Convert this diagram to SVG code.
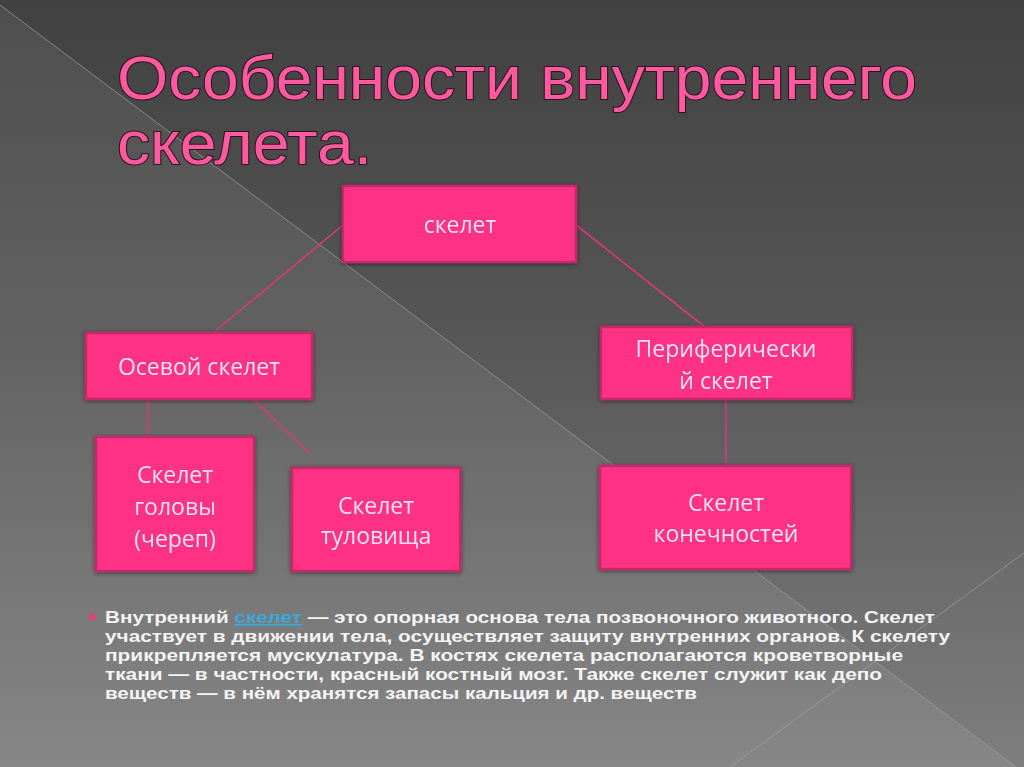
<svg xmlns="http://www.w3.org/2000/svg" width="1024" height="767" viewBox="0 0 1024 767">
<defs>
<linearGradient id="bg" x1="0" y1="0" x2="0" y2="1">
<stop offset="0" stop-color="#414141"/>
<stop offset="0.45" stop-color="#575757"/>
<stop offset="1" stop-color="#7e7e7e"/>
</linearGradient>
<filter id="glow" x="-10%" y="-10%" width="120%" height="120%">
<feGaussianBlur in="SourceAlpha" stdDeviation="2"/>
<feOffset dx="0" dy="1"/>
<feComponentTransfer><feFuncA type="linear" slope="0.5"/></feComponentTransfer>
<feMerge><feMergeNode/><feMergeNode in="SourceGraphic"/></feMerge>
</filter>
<style>
.box{fill:#ff3385;stroke:#c42a68;stroke-width:2.5}
.lbl{font-family:"Century Gothic","URW Gothic","Open Sans","Liberation Sans",sans-serif;font-size:23px;fill:#fbe1ef;text-anchor:middle}
.title{font-family:"Century Gothic","URW Gothic","Liberation Sans",sans-serif;font-size:62px;fill:#ff5aa0;stroke:#2e1420;stroke-width:2;paint-order:stroke}
.para{font-family:"Liberation Sans",Arial,sans-serif;font-weight:bold;font-size:16px;fill:#f4f4f4}
.conn{stroke:#d83a78;stroke-width:1.6;fill:none}
</style>
</defs>
<rect width="1024" height="767" fill="url(#bg)"/>
<polygon points="0,5 1024,773 0,767" fill="#ffffff" fill-opacity="0.07"/>
<line x1="0" y1="5" x2="1024" y2="773" stroke="#a0a0a0" stroke-opacity="0.7" stroke-width="1"/>
<line x1="1024" y1="553" x2="730" y2="767" stroke="#a8a8a8" stroke-opacity="0.6" stroke-width="1"/>

<g id="title">
<text class="title" x="117" y="99" textLength="800" lengthAdjust="spacingAndGlyphs">Особенности внутреннего</text>
<text class="title" x="117" y="164" textLength="255" lengthAdjust="spacingAndGlyphs">скелета.</text>
</g>

<g id="connectors">
<line class="conn" x1="343" y1="225" x2="213" y2="333"/>
<line class="conn" x1="576" y1="225" x2="705" y2="327"/>
<line class="conn" x1="148" y1="399" x2="148" y2="437"/>
<line class="conn" x1="248" y1="394" x2="310" y2="454"/>
<line class="conn" x1="726" y1="399" x2="726" y2="466"/>
</g>

<g id="node-skelet" filter="url(#glow)">
<rect class="box" x="343" y="186" width="233" height="76"/>
<text class="lbl" x="460" y="233">скелет</text>
</g>
<g id="node-osevoy" filter="url(#glow)">
<rect class="box" x="86" y="333" width="226" height="66"/>
<text class="lbl" x="199" y="375">Осевой скелет</text>
</g>
<g id="node-periferich" filter="url(#glow)">
<rect class="box" x="601" y="327" width="251" height="72"/>
<text class="lbl" x="726" y="357">Периферически</text>
<text class="lbl" x="726" y="389">й скелет</text>
</g>
<g id="node-golova" filter="url(#glow)">
<rect class="box" x="96" y="437" width="158" height="134"/>
<text class="lbl" x="175" y="483">Скелет</text>
<text class="lbl" x="175" y="515">головы</text>
<text class="lbl" x="175" y="547">(череп)</text>
</g>
<g id="node-tulovishche" filter="url(#glow)">
<rect class="box" x="292" y="468" width="168" height="103"/>
<text class="lbl" x="376" y="514">Скелет</text>
<text class="lbl" x="376" y="544">туловища</text>
</g>
<g id="node-konechnosti" filter="url(#glow)">
<rect class="box" x="600" y="466" width="251" height="103"/>
<text class="lbl" x="726" y="511">Скелет</text>
<text class="lbl" x="726" y="542">конечностей</text>
</g>

<g id="paragraph">
<circle cx="92" cy="617" r="3.5" fill="#e0407f"/>
<text class="para" x="105" y="623" textLength="830" lengthAdjust="spacingAndGlyphs">Внутренний <tspan fill="#3aa8dc" text-decoration="underline">скелет</tspan> — это опорная основа тела позвоночного животного. Скелет</text>
<text class="para" x="105" y="642" textLength="845" lengthAdjust="spacingAndGlyphs">участвует в движении тела, осуществляет защиту внутренних органов. К скелету</text>
<text class="para" x="105" y="661" textLength="798" lengthAdjust="spacingAndGlyphs">прикрепляется мускулатура. В костях скелета располагаются кроветворные</text>
<text class="para" x="105" y="680" textLength="777" lengthAdjust="spacingAndGlyphs">ткани — в частности, красный костный мозг. Также скелет служит как депо</text>
<text class="para" x="105" y="699" textLength="592" lengthAdjust="spacingAndGlyphs">веществ — в нём хранятся запасы кальция и др. веществ</text>
</g>
</svg>
